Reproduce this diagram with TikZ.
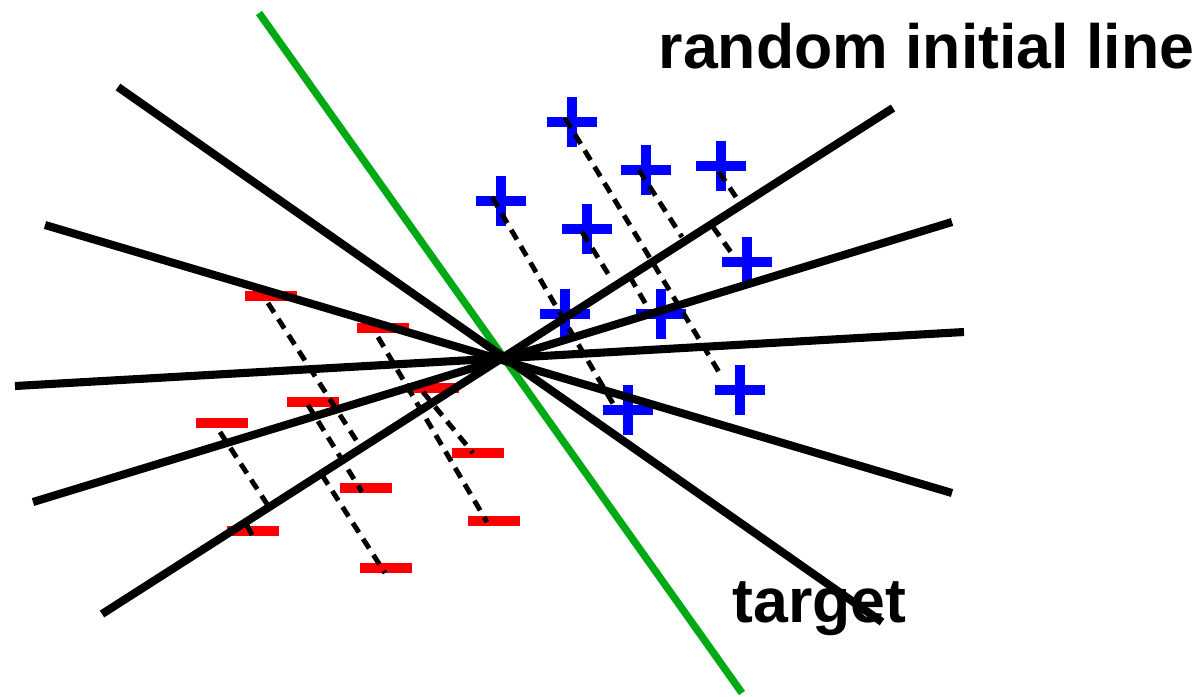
\documentclass[tikz,border=0pt]{standalone}
\usepackage{fontspec}
\setmainfont{Liberation Sans}
\usetikzlibrary{positioning}
\definecolor{plusblue}{RGB}{0,0,255}
\definecolor{minusred}{RGB}{255,0,0}
\definecolor{initgreen}{RGB}{0,170,20}
\tikzset{
  hypline/.style={line width=2.3pt,black},
  projline/.style={line width=1.4pt,dash pattern=on 3.2pt off 2.2pt},
  lbl/.style={font=\fontsize{17.8}{20}\selectfont\bfseries,inner sep=0,anchor=base west},
}

\begin{document}
\begin{tikzpicture}[x=0.01cm,y=-0.01cm]
\useasboundingbox (0,0) rectangle (1200,696);
% initial line
\draw[initgreen,line width=2.1pt] (259,13) -- (742,693);
% positive points
\foreach \x/\y in {572/122,646/170,721/166,501/201,587/229,747/262,565/314,661/314,740/390,628/410}{
  \fill[plusblue] (\x-25,\y-5) rectangle (\x+25,\y+5);
  \fill[plusblue] (\x-5,\y-25) rectangle (\x+5,\y+25);}
% negative points
\foreach \x/\y in {271/296,383/328,433/388,313/402,222/423,478/453,366/488,494/521,253/531,386/568}{
  \fill[minusred] (\x-26,\y-5) rectangle (\x+26,\y+5);}
% candidate lines
\foreach \ax/\ay/\bx/\by in {118/87/882/622,45/225/952/493,15/386/964/332,33/502/952/222,102/614/893/108}{
  \draw[hypline] (\ax,\ay) -- (\bx,\by);}
% distances
\foreach \ax/\ay/\bx/\by in {565/118/722/377,492/197/615/407,639/170/682/237,719/172/738/200,713/227/733/255,582/232/612/280,630/277/648/308,
  268/303/358/443,378/337/487/522,220/432/267/504,247/525/252/535,308/405/362/492,423/392/473/453,322/475/385/573}{
  \draw[projline] (\ax,\ay) -- (\bx,\by);}
\node[lbl] (init) at (658,68) {random initial line};
\node[lbl] (tgt) at (732,622) {target};
\end{tikzpicture}
\end{document}
